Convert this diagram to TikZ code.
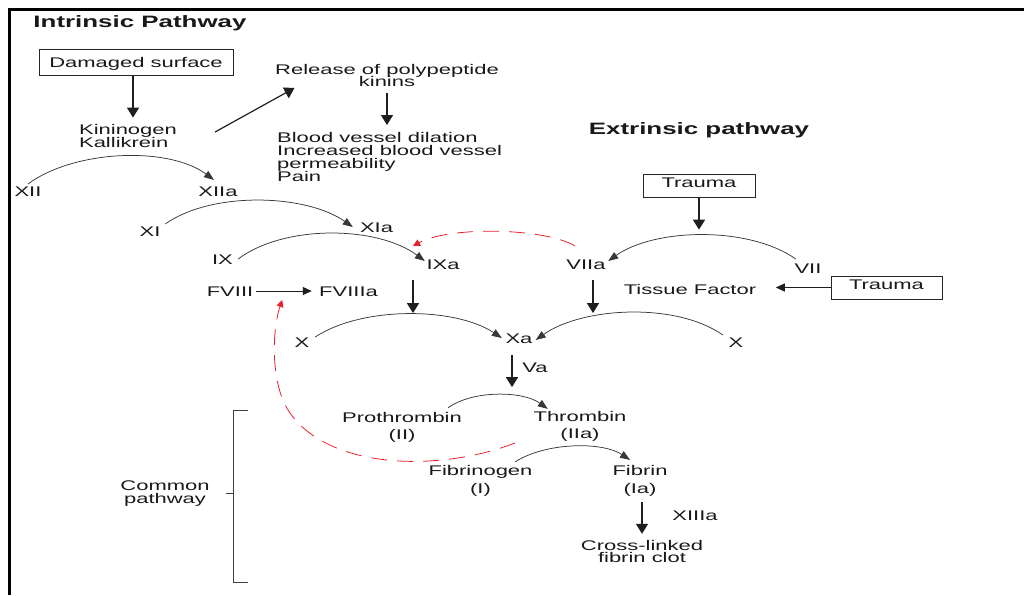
\documentclass[tikz,border=0pt]{standalone}
\usepackage{fontspec}
\setmainfont{Liberation Sans}[FakeStretch=1.57]
\usetikzlibrary{arrows.meta}
\definecolor{redline}{RGB}{232,32,44}
\newcommand{\mylead}[1]{\fontsize{14}{#1}\selectfont\lineskiplimit=-30pt\relax}
\begin{document}
\begin{tikzpicture}[x=1pt,y=-1pt,
  lbl/.style={font=\mylead{12.7}, inner sep=0pt, text=black!90},
  ttl/.style={font=\fontsize{16.5}{18}\selectfont\bfseries, inner sep=0pt, text=black!90},
  boxnode/.style={lbl, draw=black!85, line width=0.9pt, text depth=5.2pt},
  arcarrow/.style={draw=black!78, line width=0.75pt, -{Triangle[length=10pt,width=7.5pt]}},
  downarrow/.style={draw=black!88, line width=1.4pt, -{Triangle[length=10pt,width=12pt]}},
  thinarrow/.style={draw=black!88, line width=0.9pt, -{Triangle[length=9pt,width=8pt]}},
  redarrow/.style={draw=redline, line width=0.8pt, dash pattern=on 16pt off 10pt, -{Triangle[length=7pt,width=7pt]}},
  bracket/.style={draw=black!75, line width=1pt},
]
\useasboundingbox (0,0) rectangle (1024,595);
\draw[line width=3pt] (9,595) -- (9,9) -- (1024,9);

% titles
\node[ttl] (intr) at (140,22.8) {Intrinsic Pathway};
\node[ttl] (extr) at (699,130.4) {Extrinsic pathway};

% intrinsic top
\node[boxnode, minimum width=194pt, minimum height=26pt, text depth=0pt] (dmg) at (136,62.5) {Damaged surface};
\node[lbl, align=left, font=\mylead{13.5}] (kin) at (128,136) {Kininogen\\Kallikrein};
\node[lbl, align=center, font=\mylead{12}] (rel) at (387,75.5) {Release of polypeptide\\kinins};
\node[lbl, align=left, anchor=west, font=\mylead{12.7}] (blood) at (277,157) {Blood vessel dilation\\Increased blood vessel\\permeability\\Pain};

% factors
\node[lbl] (xii) at (28,192) {XII};
\node[lbl] (xiia) at (218,192) {XIIa};
\node[lbl] (xi) at (150,232) {XI};
\node[lbl] (xia) at (376.5,227.5) {XIa};
\node[lbl] (ix) at (222.5,260) {IX};
\node[lbl] (ixa) at (443,264.5) {IXa};
\node[lbl] (fviii) at (230,292) {FVIII};
\node[lbl] (fviiia) at (348.5,292) {FVIIIa};
\node[lbl] (xl) at (302,343) {X};
\node[lbl] (xa) at (519,339) {Xa};
\node[lbl] (xr) at (736,343) {X};
\node[lbl] (va) at (535,368) {Va};
\node[lbl] (viia) at (586,265) {VIIa};
\node[lbl] (vii) at (808,269) {VII};
\node[boxnode, minimum width=112pt, minimum height=23pt] (t1) at (699,185.7) {Trauma};
\node[boxnode, minimum width=111pt, minimum height=23pt] (t2) at (886.5,287.5) {Trauma};
\node[lbl] (tf) at (690,289) {Tissue Factor};

% common pathway
\node[lbl, align=center, font=\mylead{16.5}] (pro) at (402,427.6) {Prothrombin\\(II)};
\node[lbl, align=center, font=\mylead{17}] (thr) at (580,425.9) {Thrombin\\(IIa)};
\node[lbl, align=center, font=\mylead{18}] (fib) at (480.5,480.4) {Fibrinogen\\(I)};
\node[lbl, align=center, font=\mylead{18}] (fbn) at (640,480.4) {Fibrin\\(Ia)};
\node[lbl] (xiiia) at (695,516) {XIIIa};
\node[lbl, align=center, font=\mylead{12.5}] (clot) at (642,551.7) {Cross-linked\\fibrin clot};
\node[lbl, align=center, font=\mylead{13}] (common) at (165,494) {Common\\pathway};

% straight arrows
\draw[downarrow] ([shift={(-3,0)}]dmg.south) -- ([shift={(5,-6.3)}]kin.north);
\draw[downarrow, line width=1.2pt] ([shift={(38,-4)}]kin.east) -- ([shift={(19.5,12.5)}]rel.west);
\draw[downarrow] ([shift={(0,6.4)}]rel.south) -- ([shift={(110,-32)}]blood.west);
\draw[downarrow] (t1.south) -- ([shift={(0,32)}]t1.south);
\draw[downarrow] ([shift={(-30,10.5)}]ixa.south) -- ([shift={(-30,43.5)}]ixa.south);
\draw[downarrow] ([shift={(7,10)}]viia.south) -- ([shift={(7,43)}]viia.south);
\draw[downarrow] ([shift={(-7,11)}]xa.south) -- ([shift={(-7,43)}]xa.south);
\draw[downarrow] ([shift={(2,6)}]fbn.south) -- ([shift={(0,-6.3)}]clot.north);
\draw[thinarrow] ([shift={(2.8,-1)}]fviii.east) -- ([shift={(-7.2,-1)}]fviiia.west);
\draw[thinarrow] (t2.west) -- ([shift={(19.4,-1.5)}]tf.east);

% arcs
\draw[arcarrow] ([shift={(0,-3)}]xii.north) .. controls +(46,-34) and +(-46,-34) .. ([shift={(-4,-7)}]xiia.north);
\draw[arcarrow] ([shift={(4.6,-3)}]xi.north east) .. controls +(47,-33) and +(-47,-33) .. ([shift={(-7,-0.5)}]xia.west);
\draw[arcarrow] ([shift={(5,-1)}]ix.east) .. controls +(47,-35) and +(-47,-35) .. ([shift={(-1.5,-3.5)}]ixa.west);
\draw[arcarrow] ([shift={(5.7,-6)}]xl.east) .. controls +(47,-31) and +(-47,-31) .. ([shift={(-3.5,-1)}]xa.west);
\draw[arcarrow] ([shift={(-5.6,-8)}]xr.west) .. controls +(-47,-33) and +(47,-33) .. ([shift={(3,1)}]xa.east);
\draw[arcarrow] ([shift={(1.4,-5)}]vii.north west) .. controls +(-47,-33) and +(47,-33) .. ([shift={(2.4,-4)}]viia.east);
\draw[arcarrow] ([shift={(46,-4.8)}]pro.north) .. controls +(25,-18) and +(-25,-18) .. ([shift={(14.4,-1.8)}]thr.north west);
\draw[arcarrow] ([shift={(-17.4,-2.8)}]fib.north east) .. controls +(29,-19) and +(-29,-19) .. ([shift={(-10,-4.8)}]fbn.north);

% red feedback
\draw[redarrow] ([shift={(-65,17.1)}]thr.center) .. controls (440,472) and (330,470) .. (290,413) .. controls (270,385) and (272,330) .. ([shift={(28.8,8)}]fviii.east);
\draw[redarrow] ([shift={(-11,-14)}]viia.north) .. controls +(-30,-18) and +(37,-20) .. ([shift={(-30,-13.5)}]ixa.north);

% bracket
\draw[bracket] (248,410) -- (233,410) -- (233,582) -- (248,582);
\draw[bracket] (226,493) -- (233,493);
\end{tikzpicture}
\end{document}
